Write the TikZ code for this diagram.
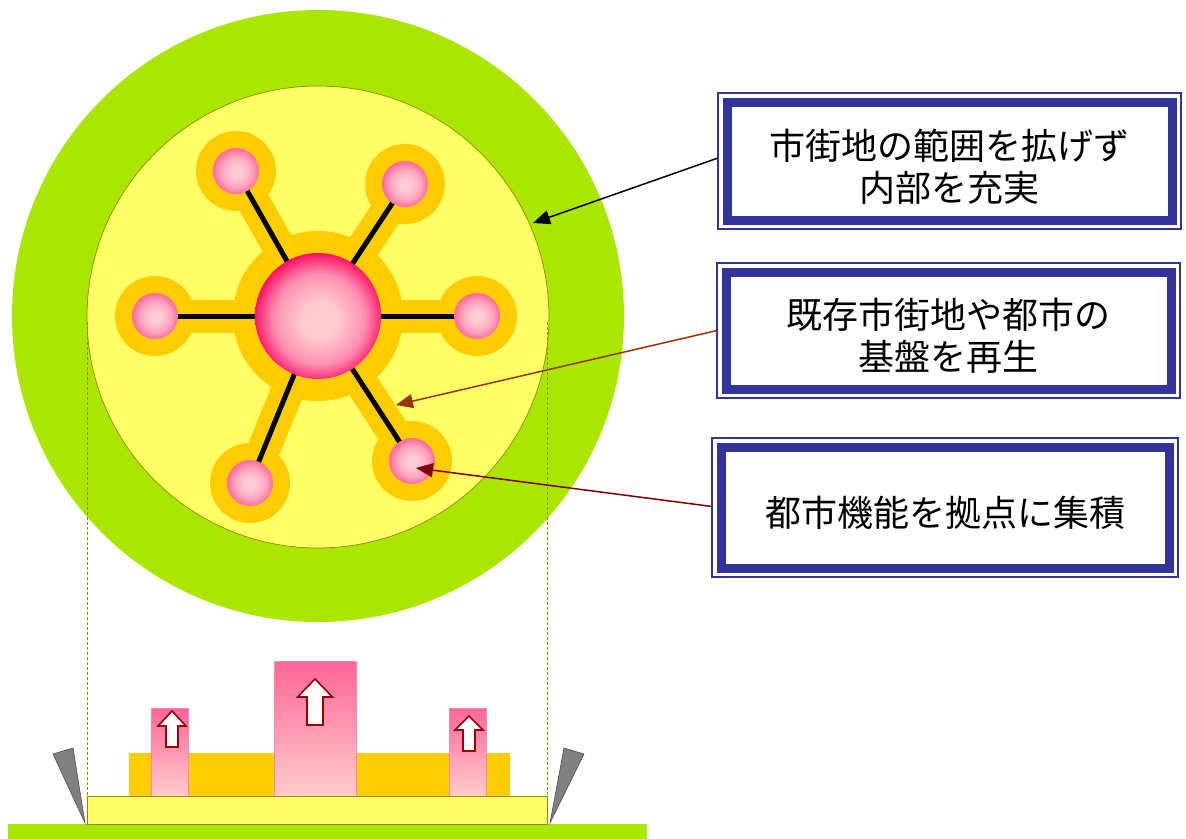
\documentclass[tikz,border=0pt]{standalone}
\usepackage{fontspec}
\newfontfamily\jp{Noto Sans CJK JP}
\usetikzlibrary{arrows.meta,calc}
\definecolor{ringgreen}{HTML}{AAE600}
\definecolor{coreyellow}{HTML}{FFFF66}
\definecolor{halo}{HTML}{FFCC00}
\definecolor{boxblue}{HTML}{333399}
\definecolor{edgeolive}{HTML}{8C8C00}
\definecolor{ballin}{HTML}{FFCCD4}
\definecolor{ballmid}{HTML}{FFA3BF}
\definecolor{ballout}{HTML}{FF6A9C}
\definecolor{hubin}{HTML}{FFCCD0}
\definecolor{hubmid}{HTML}{FF8FB0}
\definecolor{hubout}{HTML}{FF0F66}
\definecolor{bartop}{HTML}{FF6699}
\definecolor{barbot}{HTML}{FFCCCC}
\definecolor{baredge}{HTML}{FF88AA}
\definecolor{arrowred}{HTML}{990000}
\definecolor{brownarrow}{HTML}{993300}
\definecolor{darkredarrow}{HTML}{800000}
\pgfdeclareradialshading{satshade}{\pgfpoint{0.5bp}{-0.8bp}}{color(0bp)=(ballin); color(6bp)=(ballin); color(17bp)=(ballmid); color(25bp)=(ballout); color(50bp)=(ballout)}
\pgfdeclareradialshading{hubshade}{\pgfpoint{0.8bp}{-2bp}}{color(0bp)=(hubin); color(7bp)=(hubin); color(18bp)=(hubmid); color(26bp)=(hubout); color(50bp)=(hubout)}
\pgfdeclareverticalshading{barshade}{100bp}{color(0bp)=(barbot); color(25bp)=(barbot); color(75bp)=(bartop); color(100bp)=(bartop)}
\pgfdeclarelayer{back}
\pgfdeclarelayer{mid}
\pgfsetlayers{back,mid,main}
\newcommand\myUpArrow[6]{\draw[uparrowstyle] (#1,#2) -- (#1+#5,#3) -- (#1+#6,#3) -- (#1+#6,#4) -- (#1-#6,#4) -- (#1-#6,#3) -- (#1-#5,#3) -- cycle;}
\begin{document}
\begin{tikzpicture}[x=1bp,y=-1bp,
  boxstyle/.style={draw=boxblue, line width=9bp, fill=white, inner sep=0pt, outer sep=0pt},
  thinframe/.style={draw=boxblue, line width=1.3bp},
  boxtext/.style={align=center, inner sep=0pt, font=\jp\fontsize{36bp}{42bp}\selectfont},
  satball/.style={circle, inner sep=0pt, minimum size=46bp, shading=satshade},
  hubball/.style={circle, inner sep=0pt, minimum size=126bp, shading=hubshade},
  halospoke/.style={draw=halo, line width=33bp},
  blackspoke/.style={draw=black, line width=5bp},
  callout/.style={line width=1.5bp, -{Triangle[length=17bp,width=14bp]}},
  uparrowstyle/.style={fill=white, draw=arrowred, line width=1.6bp, line join=miter},
  barstyle/.style={shading=barshade, draw=baredge, line width=1bp},
  guide/.style={draw=edgeolive, line width=0.7bp, dash pattern=on 3bp off 2bp}]
\useasboundingbox (0,0) rectangle (1186,839);
% rings
\begin{pgfonlayer}{back}
\fill[ringgreen] (318,316) circle[radius=306];
\draw[fill=coreyellow, draw=edgeolive, line width=0.7bp] (318,317) circle[radius=231];
\end{pgfonlayer}
% balls
\node[hubball] (hub) at (318,316) {};
\node[satball] (s1) at (236,171) {};
\node[satball] (s2) at (405,184) {};
\node[satball] (s3) at (155,316) {};
\node[satball] (s4) at (477,316) {};
\node[satball] (s5) at (250,483) {};
\node[satball] (s6) at (412,461) {};
% spokes and halos
\begin{pgfonlayer}{mid}
\foreach \s in {s1,s2,s3,s4,s5,s6} {
  \draw[halospoke] (hub.center) -- (\s.center);
  \fill[halo] (\s.center) circle[radius=40];
}
\fill[halo] (hub.center) circle[radius=85];
\foreach \s in {s1,s2,s3,s4,s5,s6} {
  \draw[blackspoke] (hub.center) -- (\s.center);
}
\end{pgfonlayer}
% boxes
\node[boxstyle, minimum width=445bp, minimum height=118bp] (b1) at (949.5,161) {};
\draw[thinframe] ($(b1.north west)+(-9,-9)$) rectangle ($(b1.south east)+(9,9)$);
\node[boxtext] (b1t) at ($(b1.center)+(0,6)$) {市街地の範囲を拡げず\\内部を充実};
\node[boxstyle, minimum width=445bp, minimum height=117bp] (b2) at (948.5,330.5) {};
\draw[thinframe] ($(b2.north west)+(-9,-9)$) rectangle ($(b2.south east)+(9,9)$);
\node[boxtext] (b2t) at ($(b2.center)+(0,5)$) {既存市街地や都市の\\基盤を再生};
\node[boxstyle, minimum width=448bp, minimum height=121bp] (b3) at (945,507.5) {};
\draw[thinframe] ($(b3.north west)+(-9,-9)$) rectangle ($(b3.south east)+(9,9)$);
\node[boxtext] (b3t) at ($(b3.center)+(0,5)$) {都市機能を拠点に集積};
% callouts
\coordinate (t1) at (533,223);
\coordinate (t2) at (396,405);
\coordinate (t3) at (416,468);
\draw[callout, black] ($(b1.west)+(-9,-3)$) -- (t1);
\draw[callout, brownarrow] ($(b2.west)+(-9,0)$) -- (t2);
\draw[callout, darkredarrow] ($(b3.west)+(-9,-1)$) -- (t3);
% cross-section
\fill[ringgreen] (8,824) rectangle (647,839);
\fill[halo] (129,753) rectangle (510,796);
\draw[barstyle] (151,708) rectangle (188,796);
\draw[barstyle] (274,661) rectangle (356,796);
\draw[barstyle] (449,708) rectangle (486,796);
\draw[fill=coreyellow, draw=edgeolive, line width=0.8bp] (87,796) rectangle (547,824);
\draw[fill=gray, draw=black!70, line width=0.6bp] (53,754) -- (73,748) -- (85,823) -- cycle;
\draw[fill=gray, draw=black!70, line width=0.6bp] (564,748) -- (584,754) -- (550,823) -- cycle;
\myUpArrow{315}{679}{697}{725}{17.5}{8}
\myUpArrow{172}{711}{726}{747}{14}{6}
\myUpArrow{469}{716}{730}{751}{14}{6}
% guide lines
\draw[guide] (87,322) -- (87,796);
\draw[guide] (547,322) -- (547,796);
\end{tikzpicture}
\end{document}
